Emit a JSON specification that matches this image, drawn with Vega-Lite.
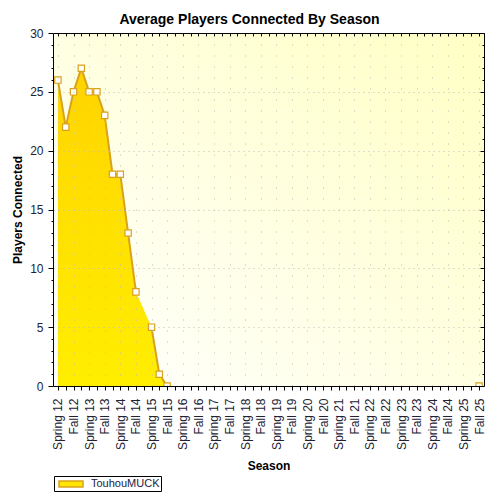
{
  "$schema": "https://vega.github.io/schema/vega-lite/v6.json",
  "width": 431,
  "height": 353,
  "autosize": "none",
  "padding": {"left": 53, "top": 33, "right": 16, "bottom": 114},
  "background": "white",
  "title": {
    "text": "Average Players Connected By Season",
    "fontSize": 14,
    "fontWeight": "bold",
    "color": "#000",
    "anchor": "middle",
    "dx": -19,
    "offset": -11,
    "baseline": "alphabetic"
  },
  "config": {
    "font": "Liberation Sans",
    "view": {
      "stroke": null,
      "fill": {
        "gradient": "linear", "x1": 1, "y1": 0, "x2": 0, "y2": 1,
        "stops": [{"offset": 0, "color": "#FFFFC4"}, {"offset": 1, "color": "#FFFFFF"}]
      }
    },
    "axis": {
      "domainColor": "#000",
      "tickColor": "#000",
      "labelColor": "#222233",
      "labelFontSize": 12,
      "titleFontSize": 12,
      "titleFontWeight": "bold",
      "titleColor": "#000",
      "gridColor": "#bdbdbd"
    }
  },
  "data": {
    "values": [
      {"season": "Spring 12", "players": 26},
      {"season": "Summer 12", "players": 22},
      {"season": "Fall 12", "players": 25},
      {"season": "Winter 12", "players": 27},
      {"season": "Spring 13", "players": 25},
      {"season": "Summer 13", "players": 25},
      {"season": "Fall 13", "players": 23},
      {"season": "Winter 13", "players": 18},
      {"season": "Spring 14", "players": 18},
      {"season": "Summer 14", "players": 13},
      {"season": "Fall 14", "players": 8},
      {"season": "Winter 14", "players": null},
      {"season": "Spring 15", "players": 5},
      {"season": "Summer 15", "players": 1},
      {"season": "Fall 15", "players": 0},
      {"season": "Winter 15", "players": null},
      {"season": "Spring 16", "players": null},
      {"season": "Summer 16", "players": null},
      {"season": "Fall 16", "players": null},
      {"season": "Winter 16", "players": null},
      {"season": "Spring 17", "players": null},
      {"season": "Summer 17", "players": null},
      {"season": "Fall 17", "players": null},
      {"season": "Winter 17", "players": null},
      {"season": "Spring 18", "players": null},
      {"season": "Summer 18", "players": null},
      {"season": "Fall 18", "players": null},
      {"season": "Winter 18", "players": null},
      {"season": "Spring 19", "players": null},
      {"season": "Summer 19", "players": null},
      {"season": "Fall 19", "players": null},
      {"season": "Winter 19", "players": null},
      {"season": "Spring 20", "players": null},
      {"season": "Summer 20", "players": null},
      {"season": "Fall 20", "players": null},
      {"season": "Winter 20", "players": null},
      {"season": "Spring 21", "players": null},
      {"season": "Summer 21", "players": null},
      {"season": "Fall 21", "players": null},
      {"season": "Winter 21", "players": null},
      {"season": "Spring 22", "players": null},
      {"season": "Summer 22", "players": null},
      {"season": "Fall 22", "players": null},
      {"season": "Winter 22", "players": null},
      {"season": "Spring 23", "players": null},
      {"season": "Summer 23", "players": null},
      {"season": "Fall 23", "players": null},
      {"season": "Winter 23", "players": null},
      {"season": "Spring 24", "players": null},
      {"season": "Summer 24", "players": null},
      {"season": "Fall 24", "players": null},
      {"season": "Winter 24", "players": null},
      {"season": "Spring 25", "players": null},
      {"season": "Summer 25", "players": null},
      {"season": "Fall 25", "players": 0}
    ]
  },
  "layer": [
    {
      "mark": {"type": "point", "filled": true, "opacity": 0, "invalid": "show"},
      "encoding": {
        "x": {
          "field": "season", "type": "ordinal", "sort": null,
          "scale": {"type": "point", "padding": 0.63},
          "axis": {"orient": "top", "title": null, "labels": false, "grid": false, "tickSize": -3, "zindex": 1}
        },
        "y": {
          "field": "players", "type": "quantitative",
          "scale": {"domain": [0, 30], "nice": false},
          "axis": {
            "orient": "right", "title": null, "labels": false, "grid": false, "zindex": 1,
            "values": [0,1,2,3,4,5,6,7,8,9,10,11,12,13,14,15,16,17,18,19,20,21,22,23,24,25,26,27,28,29,30],
            "tickSize": {"condition": {"test": "datum.value % 5 === 0", "value": -4}, "value": -2}
          }
        },
        "color": {
          "datum": "TouhouMUCK", "type": "nominal",
          "scale": {"range": ["#FFE600"]},
          "legend": {
            "title": null,
            "orient": "none",
            "legendX": 1,
            "legendY": 443,
            "padding": 1,
            "strokeColor": "#000",
            "fillColor": "white",
            "cornerRadius": 0,
            "symbolType": "M-2,-0.5H2V0.5H-2Z",
            "symbolSize": 144,
            "symbolOffset": 9,
            "symbolOpacity": 1,
            "symbolStrokeColor": "#D9A21B",
            "symbolStrokeWidth": 1.5,
            "labelFontSize": 11,
            "labelColor": "#222244",
            "labelOffset": 13
          }
        }
      }
    },
    {
      "transform": [{"filter": "isValid(datum.players)"}],
      "mark": {
        "type": "area",
        "color": {
          "gradient": "linear", "x1": 0, "y1": 0, "x2": 0, "y2": 1,
          "stops": [{"offset": 0, "color": "#FFD400"}, {"offset": 1, "color": "#FFEE00"}]
        },
        "opacity": 1
      },
      "encoding": {
        "x": {
          "field": "season", "type": "ordinal", "sort": null,
          "scale": {"type": "point", "padding": 0.63},
          "axis": {
            "orient": "bottom", "title": "Season",
            "titleX": 215.5, "titleY": 79, "titleAlign": "center", "titleBaseline": "middle",
            "labelAngle": -90, "labelAlign": "right", "labelBaseline": "middle",
            "labelPadding": 8, "tickSize": 4, "labelOverlap": false,
            "labelExpr": "indexof(datum.label, 'Spring') === 0 || indexof(datum.label, 'Fall') === 0 ? datum.label : ''",
            "grid": true, "gridDash": [1, 10],
            "gridOpacity": {"condition": {"test": "indexof(datum.value, 'Spring') === 0 || indexof(datum.value, 'Fall') === 0", "value": 1}, "value": 0},
            "zindex": 1
          }
        },
        "y": {
          "field": "players", "type": "quantitative",
          "scale": {"domain": [0, 30], "nice": false},
          "axis": {
            "orient": "left", "title": "Players Connected",
            "titleX": -36, "titleY": 176.5, "titleAngle": -90, "titleAlign": "center", "titleBaseline": "middle",
            "values": [0,1,2,3,4,5,6,7,8,9,10,11,12,13,14,15,16,17,18,19,20,21,22,23,24,25,26,27,28,29,30],
            "labelExpr": "datum.value % 5 === 0 ? datum.label : ''",
            "tickSize": {"condition": {"test": "datum.value % 5 === 0", "value": 5}, "value": 2},
            "labelPadding": 5,
            "grid": true, "gridDash": [1, 4],
            "gridOpacity": {"condition": {"test": "datum.value % 5 === 0 && datum.value > 0 && datum.value < 30", "value": 1}, "value": 0},
            "zindex": 1
          }
        }
      }
    },
    {
      "mark": {"type": "line", "color": "#D9A21B", "strokeWidth": 2, "clip": true},
      "encoding": {
        "x": {"field": "season", "type": "ordinal", "sort": null, "axis": null},
        "y": {"field": "players", "type": "quantitative", "axis": null}
      }
    },
    {
      "mark": {
        "type": "point", "shape": "square", "filled": true,
        "fill": "white", "stroke": "#D9A21B", "strokeWidth": 1.2,
        "size": 40, "opacity": 1, "clip": true
      },
      "encoding": {
        "x": {"field": "season", "type": "ordinal", "sort": null, "axis": null},
        "y": {"field": "players", "type": "quantitative", "axis": null}
      }
    }
  ],
  "resolve": {"axis": {"x": "independent", "y": "independent"}}
}
